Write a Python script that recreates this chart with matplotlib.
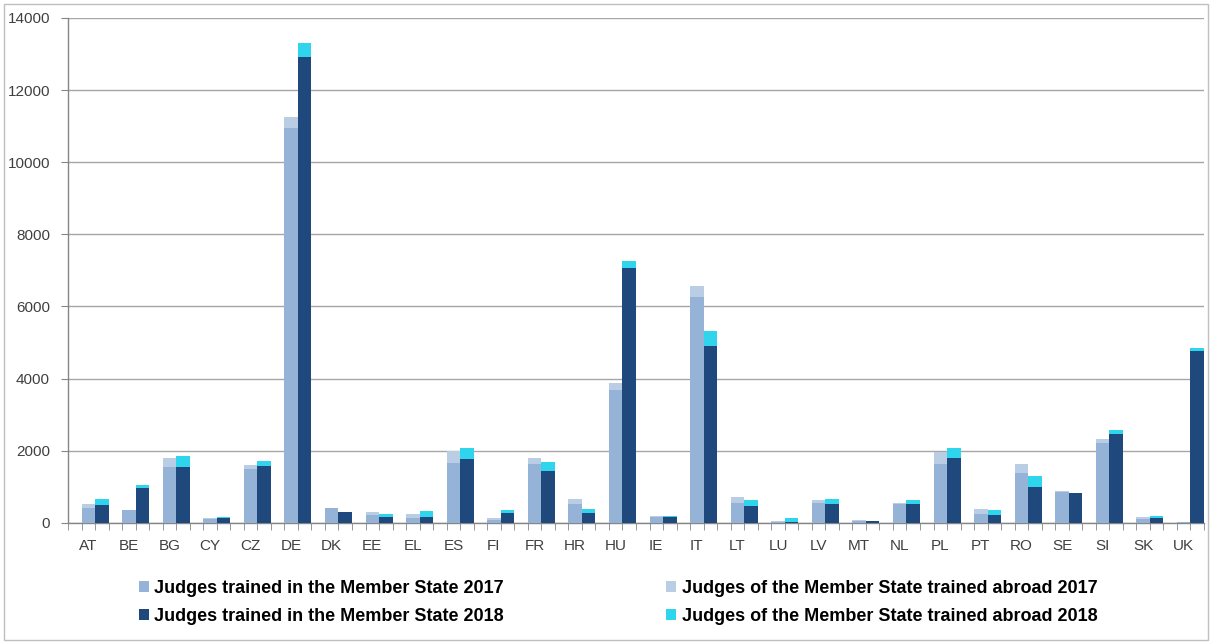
#!/usr/bin/env python3

import matplotlib
matplotlib.use('Agg')
import matplotlib.pyplot as plt
import matplotlib.patches as mpatches
import numpy as np


countries = ['AT', 'BE', 'BG', 'CY', 'CZ', 'DE', 'DK', 'EE', 'EL', 'ES', 'FI', 'FR', 'HR', 'HU',
             'IE', 'IT', 'LT', 'LU', 'LV', 'MT', 'NL', 'PL', 'PT', 'RO', 'SE', 'SI', 'SK', 'UK']

trained_2017 = [410, 350, 1540, 110, 1480, 10940, 400, 210, 130, 1665, 80, 1640, 525, 3690,
                160, 6250, 550, 30, 535, 45, 520, 1640, 250, 1390, 860, 2220, 110, 25]
abroad_2017 = [110, 0, 245, 15, 110, 310, 0, 80, 110, 330, 40, 145, 140, 175,
               15, 320, 165, 10, 100, 20, 30, 310, 130, 250, 15, 100, 45, 0]
trained_2018 = [500, 965, 1540, 135, 1565, 12915, 310, 155, 155, 1775, 265, 1445, 265, 7060,
                165, 4910, 460, 10, 525, 35, 525, 1785, 210, 1000, 820, 2465, 130, 4775]
abroad_2018 = [145, 90, 310, 35, 140, 400, 0, 85, 165, 295, 85, 230, 110, 195,
               25, 400, 175, 110, 145, 10, 110, 285, 140, 305, 0, 110, 55, 65]

labels = ['Judges trained in the Member State 2017',
          'Judges of the Member State trained abroad 2017',
          'Judges trained in the Member State 2018',
          'Judges of the Member State trained abroad 2018']
colors = ['#95b3d7', '#b9cde5', '#1f497d', '#2ed5ec']
yticks = [0, 2000, 4000, 6000, 8000, 10000, 12000, 14000]


def main():
    plt.rcParams['font.family'] = ['Liberation Sans', 'DejaVu Sans']
    fig = plt.figure(figsize=(12.12, 6.42), dpi=100)
    ax = fig.add_axes([68 / 1212, 1 - 522.7 / 642, 1136 / 1212, (522.7 - 18) / 642])

    idx = np.arange(len(countries))
    w = 1 / 3
    b1 = ax.bar(idx + w, trained_2017, w, align='edge', color=colors[0], zorder=3)
    b2 = ax.bar(idx + w, abroad_2017, w, bottom=trained_2017, align='edge', color=colors[1], zorder=3)
    b3 = ax.bar(idx + 2 * w, trained_2018, w, align='edge', color=colors[2], zorder=3)
    b4 = ax.bar(idx + 2 * w, abroad_2018, w, bottom=trained_2018, align='edge', color=colors[3], zorder=3)

    ax.set_xlim(0, len(countries))
    ax.set_ylim(0, 14000)
    ax.set_yticks(yticks)
    ax.set_yticklabels([str(v) for v in yticks], fontsize=11, color='#404040')
    ax.yaxis.grid(True, color='#a6a6a6', linewidth=1, zorder=0)
    ax.tick_params(axis='y', length=5, color='#868686', pad=8)

    ax.set_xticks(idx + 0.5)
    ax.set_xticklabels(countries, fontsize=11, color='#404040')
    ax.tick_params(axis='x', which='major', length=0, pad=12)
    ax.set_xticks(np.arange(0, len(countries) + 0.01, w), minor=True)
    ax.tick_params(axis='x', which='minor', length=5, color='#868686')

    for s in ['top', 'right']:
        ax.spines[s].set_visible(False)
    for s in ['left', 'bottom']:
        ax.spines[s].set_color('#868686')
        ax.spines[s].set_linewidth(1)

    handles = [b1, b3, b2, b4]
    hl = [labels[0], labels[2], labels[1], labels[3]]
    fig.legend(handles, hl, loc='upper left', bbox_to_anchor=(139 / 1212, 1 - 580 / 642),
               ncol=2, frameon=False, borderpad=0, borderaxespad=0,
               handlelength=0.55, handleheight=0.55, handletextpad=0.3,
               columnspacing=9.0, labelspacing=0.6,
               prop={'family': ['Liberation Sans'], 'weight': 'bold', 'size': 13})

    fig.patches.append(mpatches.Rectangle((4 / 1212, 2 / 642), 1204 / 1212, 636 / 642,
                                          transform=fig.transFigure, fill=False,
                                          edgecolor='#bfbfbf', linewidth=1))

    fig.savefig('out.png', dpi=100)


if __name__ == '__main__':
    main()
